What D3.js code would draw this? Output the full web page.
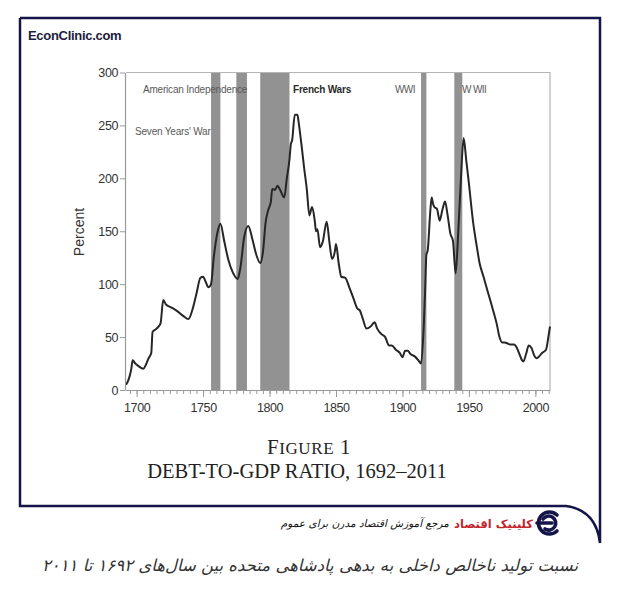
<!DOCTYPE html>
<html><head><meta charset="utf-8">
<script src="https://cdn.jsdelivr.net/npm/d3@7/dist/d3.min.js"></script>
<style>
body{margin:0;background:#fff;}
svg{display:block;}
</style></head>
<body><svg id="chart" width="618" height="593"></svg>
<script>
const years = [1692,1694,1696,1697,1699,1701,1705,1707,1709,1711,1712,1715,1718,1720,1722,1726,1730,1735,1739,1742,1745,1748,1750,1752,1754,1756,1758,1761,1763,1766,1769,1772,1776,1778,1781,1784,1787,1790,1793,1795,1797,1799,1801,1802,1804,1806,1808,1811,1813,1815,1816,1817,1819,1821,1822,1824,1826,1828,1830,1832,1834,1835,1836,1838,1840,1843,1845,1847,1849,1850,1852,1854,1857,1860,1863,1866,1868,1870,1873,1876,1879,1881,1884,1887,1890,1892,1895,1898,1900,1902,1904,1906,1909,1912,1914,1916,1917,1918,1919,1921,1922,1923,1924,1926,1928,1930,1932,1934,1936,1938,1940,1942,1944,1946,1948,1950,1953,1956,1958,1961,1963,1966,1968,1971,1973,1975,1977,1979,1981,1984,1986,1988,1990,1991,1993,1995,1997,1999,2001,2003,2005,2008,2010,2011];
const debtRatio = [5,10,20,28,25,23,20,24,30,35,55,58,63,85,81,78,75,70,67,76,91,106,107,102,97,100,125,150,157,140,123,112,105,115,145,155,143,128,120,130,158,170,178,190,189,193,189,182,200,218,232,236,260,260,252,232,210,190,165,173,160,150,152,135,140,159,140,124,130,138,120,107,106,97,87,77,75,68,58,60,64,58,53,50,42,42,38,35,31,37,37,34,32,28,25,60,92,128,132,170,182,176,173,171,160,170,178,165,148,141,110,150,200,238,217,195,160,135,120,107,98,85,76,62,50,45,45,44,43,43,40,34,28,27,34,42,40,33,30,32,35,38,52,60];
const warNames = ["Seven Years' War","American Independence","French Wars","WWI","WWII"];
const warStart = [1756,1775,1793,1914,1939];
const warEnd = [1763,1783,1815,1918,1945];
const yTicks = [0,50,100,150,200,250,300];
const xTicks = [1700,1750,1800,1850,1900,1950,2000];

const svg = d3.select("#chart");
svg.append("rect").attr("width",618).attr("height",593).attr("fill","#fff");

const x = d3.scaleLinear().domain([1692,2011]).range([126,550]);
const y = d3.scaleLinear().domain([0,300]).range([390,72.5]);

// war bars
svg.append("g").selectAll("rect").data(warNames).join("rect")
  .attr("x",(d,i)=>x(warStart[i]))
  .attr("width",(d,i)=>x(warEnd[i])-x(warStart[i]))
  .attr("y",y(300)).attr("height",y(0)-y(300))
  .attr("fill","#929292");

// plot box top/right
svg.append("path").attr("d",`M${x(1692)},${y(300)}H${x(2011)}V${y(0)}`)
  .attr("fill","none").attr("stroke","#b5b5b5").attr("stroke-width",1.2);

// line
const pts = years.map((yr,i)=>[yr,debtRatio[i]]);
svg.append("path").datum(pts)
  .attr("d",d3.line().x(d=>x(d[0])).y(d=>y(d[1])).curve(d3.curveMonotoneX))
  .attr("fill","none").attr("stroke","#262626").attr("stroke-width",2).attr("stroke-linejoin","round");

// axes
const fontAx = "'Liberation Sans', Arial, sans-serif";
const yAx = svg.append("g").attr("transform",`translate(${x(1692)-1},0)`)
  .call(d3.axisLeft(y).tickValues(yTicks).tickSize(5).tickSizeOuter(0).tickPadding(2));
const xMinor = svg.append("g").attr("transform",`translate(0,${y(0)})`)
  .call(d3.axisBottom(x).tickValues(d3.range(1695,2011,5)).tickSize(4).tickSizeOuter(0).tickFormat(""));
const xAx = svg.append("g").attr("transform",`translate(0,${y(0)})`)
  .call(d3.axisBottom(x).tickValues(xTicks).tickSize(7).tickSizeOuter(0).tickPadding(6).tickFormat(d3.format("d")));
[yAx,xAx,xMinor].forEach(g=>{
  g.selectAll("path").attr("stroke","#9a9a9a").attr("stroke-width",1.2);
  g.selectAll("line").attr("stroke","#9a9a9a");
  g.selectAll("text").attr("fill","#333").attr("font-family",fontAx).attr("font-size",12.5).attr("letter-spacing","-0.4");
});

svg.append("text").attr("transform","translate(84,232) rotate(-90)")
  .attr("text-anchor","middle").attr("font-family",fontAx).attr("font-size",14)
  .attr("fill","#333").text("Percent");

// war labels
const lab = (t,px,py,opt={})=>svg.append("text").attr("x",px).attr("y",py)
  .attr("font-family",fontAx).attr("font-size",opt.size||10).attr("font-weight",opt.bold?"bold":"normal")
  .attr("fill",opt.fill||"#5a5a5a").attr("letter-spacing",opt.ls||"-0.2").text(t);
lab(warNames[1],143,93);
lab(warNames[0],135,135);
lab(warNames[2],293,93,{bold:true,fill:"#2a2a2a"});
lab(warNames[3],395,93,{ls:"-0.6"});
lab("W WII",462,93,{ls:"-0.6"});

// title
const serif = "'Liberation Serif','Times New Roman',serif";
const t1 = svg.append("text").attr("x",309).attr("y",454).attr("text-anchor","middle")
  .attr("font-family",serif).attr("fill","#222").attr("letter-spacing","0.6");
t1.append("tspan").attr("font-size",21).text("F");
t1.append("tspan").attr("font-size",17).text("IGURE");
t1.append("tspan").attr("font-size",21).text(" 1");
svg.append("text").attr("x",297).attr("y",478).attr("text-anchor","middle")
  .attr("font-family",serif).attr("font-size",20.5).attr("fill","#222")
  .text("DEBT-TO-GDP RATIO, 1692–2011");

// header
svg.append("text").attr("x",28).attr("y",40).attr("font-family",fontAx)
  .attr("font-size",13).attr("font-weight","bold").attr("fill","#1c1c3c").attr("letter-spacing","-0.3")
  .text("EconClinic.com");

// frame
svg.append("path").attr("d","M20,18H600V543M20,18V506H566Q596,510 600,543")
  .attr("fill","none").attr("stroke","#15154a").attr("stroke-width",2.5);

// logo
const lg = svg.append("g").attr("transform","translate(549,523)").attr("fill","none")
  .attr("stroke","#15154a").attr("stroke-width",3.6).attr("stroke-linecap","round");
lg.append("path").attr("d","M8,-8 A11,11 0 1 0 8,8");
lg.append("path").attr("d","M-6,-4 A7,7 0 1 1 -4,6");
lg.append("path").attr("d","M-12,0 H3");

svg.append("text").attr("x",533).attr("y",528).attr("text-anchor","start")
  .attr("font-family","'DejaVu Sans',sans-serif").attr("font-size",11.5).attr("font-weight","bold")
  .attr("fill","#c4252c").attr("direction","rtl").text("کلینیک اقتصاد");
svg.append("text").attr("x",449).attr("y",527).attr("text-anchor","start")
  .attr("font-family","'DejaVu Sans',sans-serif").attr("font-size",10.5).attr("font-style","italic")
  .attr("fill","#111").attr("direction","rtl").text("مرجع آموزش اقتصاد مدرن برای عموم");

// caption
svg.append("text").attr("x",310).attr("y",571).attr("text-anchor","middle")
  .attr("font-family","'DejaVu Sans',sans-serif").attr("font-size",16.5).attr("font-style","italic")
  .attr("fill","#333").attr("direction","rtl")
  .text("نسبت تولید ناخالص داخلی به بدهی پادشاهی متحده بین سال‌های ۱۶۹۲ تا ۲۰۱۱");
</script></body></html>
